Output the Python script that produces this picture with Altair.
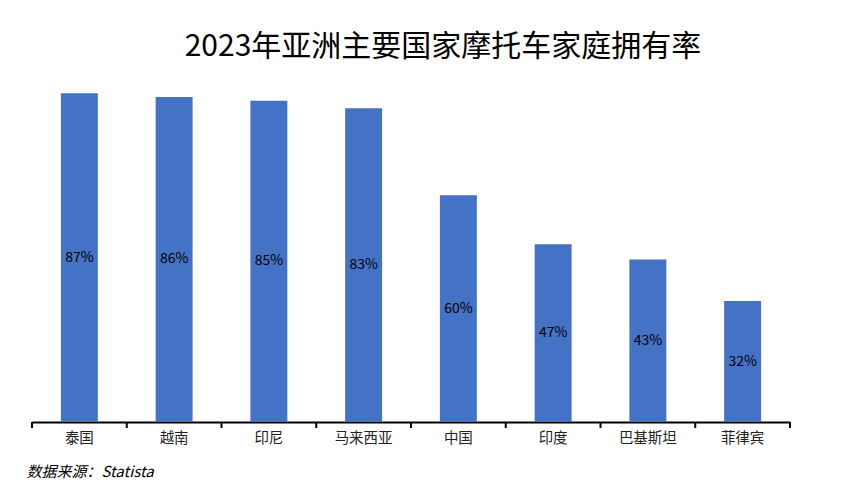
import altair as alt
import pandas as pd

countries = ["泰国", "越南", "印尼", "马来西亚", "中国", "印度", "巴基斯坦", "菲律宾"]
rates = [87, 86, 85, 83, 60, 47, 43, 32]
labels = ["87%", "86%", "85%", "83%", "60%", "47%", "43%", "32%"]

df = pd.DataFrame({"country": countries, "rate": rates, "label": labels})
df["half"] = df["rate"] / 2

FONT = "Noto Sans CJK SC"
W = 758
PAD_INNER = 0.61
STEP = W / len(countries)
GAP = PAD_INNER * STEP / 2

x_scale = alt.Scale(domain=countries, paddingInner=PAD_INNER, paddingOuter=PAD_INNER / 2)

x_enc = alt.X(
    "country:N",
    sort=countries,
    scale=x_scale,
    axis=alt.Axis(
        title="数据来源：Statista",
        titleFont=FONT,
        titleFontSize=15,
        titleFontStyle="italic",
        titleFontWeight="normal",
        titleColor="#000000",
        titleAnchor="start",
        titleAlign="left",
        titleX=-6,
        titleY=42,
        labelAngle=0,
        labelFont=FONT,
        labelFontSize=14.5,
        labelColor="#222222",
        labelPadding=9,
        domainColor="#000000",
        domainWidth=2,
        ticks=False,
        grid=False,
    ),
)

bars = alt.Chart(df).mark_bar(color="#4472C4").encode(
    x=x_enc,
    y=alt.Y("rate:Q", scale=alt.Scale(domain=[0, 100], nice=False), axis=None),
)

text = alt.Chart(df).mark_text(font=FONT, fontSize=14, color="#000000").encode(
    x=alt.X("country:N", sort=countries),
    y=alt.Y("half:Q"),
    text="label:N",
)

# tick marks at category boundaries
ticks_start = alt.Chart(df).mark_rule(color="#000000", strokeWidth=2, xOffset=-GAP).encode(
    x=alt.X("country:N", sort=countries, bandPosition=0),
    y=alt.value(378),
    y2=alt.value(384),
)
ticks_end = alt.Chart(df[df["country"] == countries[-1]]).mark_rule(
    color="#000000", strokeWidth=2, xOffset=GAP
).encode(
    x=alt.X("country:N", sort=countries, bandPosition=1),
    y=alt.value(378),
    y2=alt.value(384),
)

chart = (
    alt.layer(bars, text, ticks_start, ticks_end)
    .properties(
        width=W,
        height=378,
        autosize=alt.AutoSizeParams(type="none"),
        padding={"left": 24, "top": 36, "right": 20, "bottom": 66},
        title=alt.TitleParams(
            "2023年亚洲主要国家摩托车家庭拥有率",
            font=FONT,
            fontSize=30,
            fontWeight="normal",
            color="#000000",
            anchor="middle",
            dx=32,
            offset=-18,
        ),
    )
    .configure_view(stroke=None)
)

chart.save("out.html", embed_options={"renderer": "svg", "actions": False})
